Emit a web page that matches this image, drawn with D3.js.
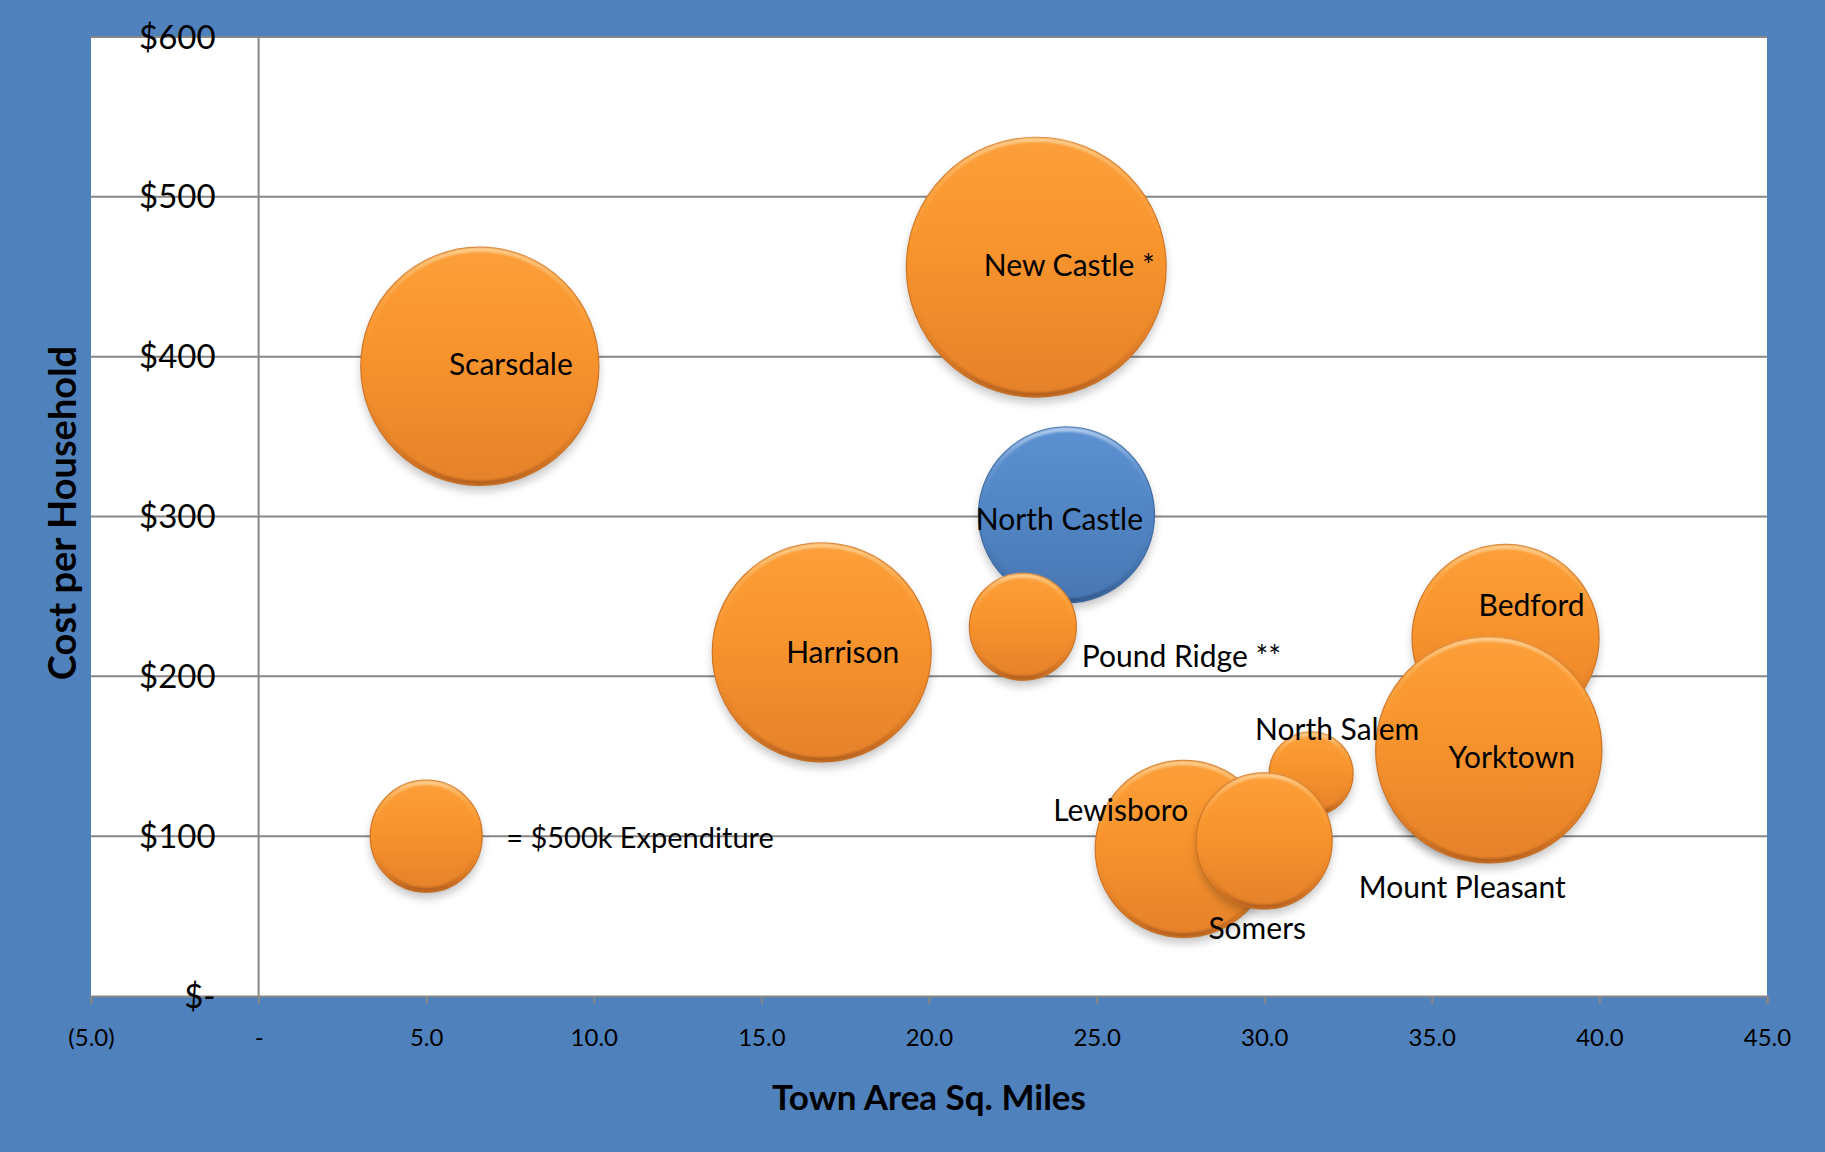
<!DOCTYPE html>
<html>
<head>
<meta charset="utf-8">
<script src="https://cdn.jsdelivr.net/npm/d3@7"></script>
<style>
  html, body { margin: 0; padding: 0; background: #4F81BD; }
  svg { display: block; font-family: Lato, "Open Sans", sans-serif; }
</style>
</head>
<body>
<svg id="chart" width="1825" height="1152"></svg>
<script>
// Town data: land area (sq. miles), cost per household ($) and total expenditure ($k, bubble size)
const towns            = ["Scarsdale", "New Castle *", "North Castle", "Pound Ridge **", "Harrison", "Bedford", "Mount Pleasant", "Yorktown", "North Salem", "Lewisboro", "Somers"];
const areaSqMiles      = [6.6, 23.2, 24.1, 22.8, 16.8, 37.2, 36.0, 36.7, 31.4, 27.6, 30.0];
const costPerHousehold = [394, 456, 301, 231, 215, 224, 140, 154, 139, 92, 97];
const expenditureK     = [2260, 2690, 1235, 456, 1910, 1394, 1020, 2040, 281, 1250, 737];
const highlightedTown  = "North Castle";

// Size key bubble
const keyArea = 5.0;
const keyCost = 100;
const keyExpenditureK = 500;
const keyText = "= $500k Expenditure";

// Axis ticks
const xTickValues = [-5, 0, 5, 10, 15, 20, 25, 30, 35, 40, 45];
const xTickLabels = ["(5.0)", "-", "5.0", "10.0", "15.0", "20.0", "25.0", "30.0", "35.0", "40.0", "45.0"];
const yTickValues = [0, 100, 200, 300, 400, 500, 600];
const yTickLabels = ["$-", "$100", "$200", "$300", "$400", "$500", "$600"];

const xTitle = "Town Area Sq. Miles";
const yTitle = "Cost per Household";

// Label placement (pixel nudges relative to each bubble centre)
const labelNudge = {
  "Scarsdale":      { dx: 31,  dy: -2,  anchor: "middle" },
  "New Castle *":   { dx: 33,  dy: -2,  anchor: "middle" },
  "North Castle":   { dx: -7,  dy: 5,   anchor: "middle" },
  "Pound Ridge **": { dx: 59,  dy: 30,  anchor: "start" },
  "Harrison":       { dx: 21,  dy: 0,   anchor: "middle" },
  "Bedford":        { dx: 26,  dy: -32, anchor: "middle" },
  "Mount Pleasant": { dx: -3,  dy: 115, anchor: "middle" },
  "Yorktown":       { dx: 23,  dy: 8,   anchor: "middle" },
  "North Salem":    { dx: 26,  dy: -44, anchor: "middle" },
  "Lewisboro":      { dx: -63, dy: -38, anchor: "middle" },
  "Somers":         { dx: -7,  dy: 88,  anchor: "middle" }
};

const svg = d3.select("#chart");
const W = 1825, H = 1152;
const plot = { left: 91, top: 37, right: 1767, bottom: 996 };

const x = d3.scaleLinear().domain([-5, 45]).range([plot.left, plot.right]);
const y = d3.scaleLinear().domain([0, 600]).range([plot.bottom, plot.top]);
const r = d3.scaleSqrt().domain([0, keyExpenditureK]).range([0, 56]);

const lineColor = "#878787";

// Background and plot area
svg.append("rect").attr("width", W).attr("height", H).attr("fill", "#4F81BD");
svg.append("rect")
  .attr("x", plot.left).attr("y", plot.top)
  .attr("width", plot.right - plot.left).attr("height", plot.bottom - plot.top)
  .attr("fill", "#ffffff");

// Defs: gradients for the bevelled bubbles and a soft shadow
const defs = svg.append("defs");
function vGrad(id, stops) {
  const g = defs.append("linearGradient").attr("id", id)
    .attr("x1", 0).attr("y1", 0).attr("x2", 0).attr("y2", 1);
  stops.forEach(s => g.append("stop").attr("offset", s[0]).attr("stop-color", s[1]).attr("stop-opacity", s[2] == null ? 1 : s[2]));
}
vGrad("fillOrange", [["0%", "#FC9F3A"], ["40%", "#F9952D"], ["100%", "#E5812A"]]);
vGrad("fillBlue",   [["0%", "#5C91D1"], ["40%", "#5387C6"], ["100%", "#4877B3"]]);
vGrad("bevelOrange", [["0%", "#FFD49A", 0.9], ["18%", "#FFC070", 0.35], ["50%", "#F7922E", 0], ["85%", "#B8631C", 0.35], ["100%", "#A4561A", 0.8]]);
vGrad("bevelBlue",   [["0%", "#BFD6F2", 0.9], ["18%", "#9CBDE6", 0.35], ["50%", "#4F81BD", 0], ["85%", "#2F5A8E", 0.35], ["100%", "#2A5080", 0.8]]);

const shadow = defs.append("filter").attr("id", "softShadow")
  .attr("x", "-30%").attr("y", "-30%").attr("width", "160%").attr("height", "160%");
shadow.append("feGaussianBlur").attr("stdDeviation", 5);

const bevelBlur = defs.append("filter").attr("id", "bevelBlur")
  .attr("x", "-10%").attr("y", "-10%").attr("width", "120%").attr("height", "120%");
bevelBlur.append("feGaussianBlur").attr("stdDeviation", 1.2);

// Gridlines
svg.append("g").selectAll("line").data(yTickValues.filter(v => v > 0)).join("line")
  .attr("x1", plot.left).attr("x2", plot.right)
  .attr("y1", d => y(d)).attr("y2", d => y(d))
  .attr("stroke", lineColor).attr("stroke-width", 2);

// Vertical axis line at x = 0
svg.append("line")
  .attr("x1", x(0)).attr("x2", x(0)).attr("y1", y(0)).attr("y2", y(600))
  .attr("stroke", lineColor).attr("stroke-width", 2);

// X axis
const xAxis = svg.append("g")
  .attr("transform", `translate(0,${y(0)})`)
  .call(d3.axisBottom(x).tickValues(xTickValues).tickFormat((d, i) => xTickLabels[i]).tickSizeOuter(0).tickSize(8));
xAxis.select(".domain").attr("stroke", lineColor).attr("stroke-width", 2);
xAxis.selectAll(".tick line").attr("stroke", lineColor).attr("stroke-width", 2);
xAxis.selectAll(".tick text")
  .attr("y", 42).attr("dy", "0.35em")
  .attr("fill", "#000").attr("font-size", 24).attr("font-family", "Lato, sans-serif");

// Bubbles
const rows = towns.map((t, i) => ({ name: t, area: areaSqMiles[i], cost: costPerHousehold[i], size: expenditureK[i] }));
const keyRow = { name: keyText, area: keyArea, cost: keyCost, size: keyExpenditureK };

function drawBubble(g, d) {
  const blue = d.name === highlightedTown;
  const cx = x(d.area), cy = y(d.cost), rr = r(d.size);
  g.append("circle").attr("cx", cx).attr("cy", cy + 6).attr("r", rr)
    .attr("fill", "#000").attr("opacity", 0.22).attr("filter", "url(#softShadow)");
  g.append("circle").attr("cx", cx).attr("cy", cy).attr("r", rr)
    .attr("fill", blue ? "url(#fillBlue)" : "url(#fillOrange)")
    .attr("stroke", blue ? "#3E6BA3" : "#CF7426").attr("stroke-width", 1.2);
  g.append("circle").attr("cx", cx).attr("cy", cy).attr("r", Math.max(rr - 2.5, 1))
    .attr("fill", "none")
    .attr("stroke", blue ? "url(#bevelBlue)" : "url(#bevelOrange)")
    .attr("stroke-width", 4).attr("filter", "url(#bevelBlur)");
}

const bubbles = svg.append("g");
drawBubble(bubbles.append("g"), keyRow);
rows.forEach(d => drawBubble(bubbles.append("g"), d));

// Y tick labels (drawn over the gridlines)
svg.append("g").selectAll("text").data(yTickValues).join("text")
  .attr("x", x(0) - 43).attr("y", d => y(d)).attr("dy", "0.35em")
  .attr("text-anchor", "end").attr("font-size", 33).attr("fill", "#000")
  .text((d, i) => yTickLabels[i]);

// Bubble labels
svg.append("g").selectAll("text").data(rows).join("text")
  .attr("x", d => x(d.area) + labelNudge[d.name].dx)
  .attr("y", d => y(d.cost) + labelNudge[d.name].dy)
  .attr("dy", "0.35em")
  .attr("text-anchor", d => labelNudge[d.name].anchor)
  .attr("font-size", 30).attr("fill", "#000")
  .text(d => d.name);

// Size key label
svg.append("text")
  .attr("x", x(keyRow.area) + r(keyRow.size) + 24)
  .attr("y", y(keyRow.cost) + 2).attr("dy", "0.35em")
  .attr("font-size", 29).attr("fill", "#000")
  .text(keyText);

// Axis titles
svg.append("text")
  .attr("x", 929).attr("y", 1110)
  .attr("text-anchor", "middle").attr("font-weight", 700).attr("font-size", 35).attr("fill", "#000")
  .text(xTitle);
svg.append("text")
  .attr("transform", "translate(76,513) rotate(-90)")
  .attr("text-anchor", "middle").attr("font-weight", 700).attr("font-size", 38).attr("fill", "#000")
  .text(yTitle);
</script>
</body>
</html>
